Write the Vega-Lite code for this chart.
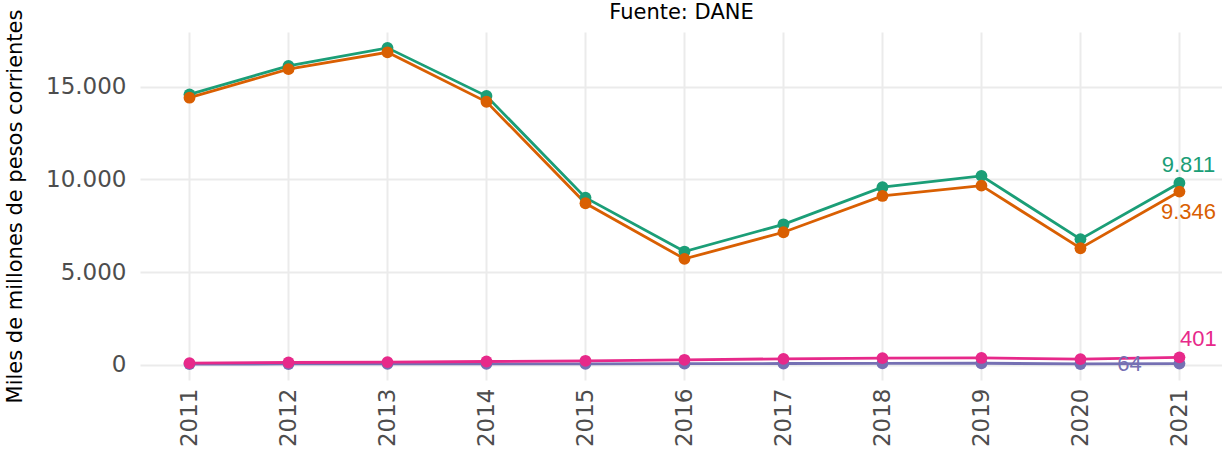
{
  "$schema": "https://vega.github.io/schema/vega-lite/v6.json",
  "autosize": {"type": "none"},
  "padding": {"left": 140, "top": 32, "right": 0, "bottom": 70},
  "width": 1082,
  "height": 348,
  "data": {"values": [
    {"anio": 2011, "serie": "Total", "valor": 14590},
    {"anio": 2012, "serie": "Total", "valor": 16130},
    {"anio": 2013, "serie": "Total", "valor": 17100},
    {"anio": 2014, "serie": "Total", "valor": 14500},
    {"anio": 2015, "serie": "Total", "valor": 9020},
    {"anio": 2016, "serie": "Total", "valor": 6110},
    {"anio": 2017, "serie": "Total", "valor": 7580},
    {"anio": 2018, "serie": "Total", "valor": 9580},
    {"anio": 2019, "serie": "Total", "valor": 10190},
    {"anio": 2020, "serie": "Total", "valor": 6780},
    {"anio": 2021, "serie": "Total", "valor": 9811},
    {"anio": 2011, "serie": "Serie A", "valor": 14410},
    {"anio": 2012, "serie": "Serie A", "valor": 15950},
    {"anio": 2013, "serie": "Serie A", "valor": 16860},
    {"anio": 2014, "serie": "Serie A", "valor": 14190},
    {"anio": 2015, "serie": "Serie A", "valor": 8715},
    {"anio": 2016, "serie": "Serie A", "valor": 5715},
    {"anio": 2017, "serie": "Serie A", "valor": 7150},
    {"anio": 2018, "serie": "Serie A", "valor": 9110},
    {"anio": 2019, "serie": "Serie A", "valor": 9665},
    {"anio": 2020, "serie": "Serie A", "valor": 6290},
    {"anio": 2021, "serie": "Serie A", "valor": 9346},
    {"anio": 2011, "serie": "Serie B", "valor": 40},
    {"anio": 2012, "serie": "Serie B", "valor": 45},
    {"anio": 2013, "serie": "Serie B", "valor": 50},
    {"anio": 2014, "serie": "Serie B", "valor": 55},
    {"anio": 2015, "serie": "Serie B", "valor": 55},
    {"anio": 2016, "serie": "Serie B", "valor": 60},
    {"anio": 2017, "serie": "Serie B", "valor": 70},
    {"anio": 2018, "serie": "Serie B", "valor": 80},
    {"anio": 2019, "serie": "Serie B", "valor": 85},
    {"anio": 2020, "serie": "Serie B", "valor": 45},
    {"anio": 2021, "serie": "Serie B", "valor": 64},
    {"anio": 2011, "serie": "Serie C", "valor": 92},
    {"anio": 2012, "serie": "Serie C", "valor": 124},
    {"anio": 2013, "serie": "Serie C", "valor": 145},
    {"anio": 2014, "serie": "Serie C", "valor": 178},
    {"anio": 2015, "serie": "Serie C", "valor": 216},
    {"anio": 2016, "serie": "Serie C", "valor": 270},
    {"anio": 2017, "serie": "Serie C", "valor": 323},
    {"anio": 2018, "serie": "Serie C", "valor": 361},
    {"anio": 2019, "serie": "Serie C", "valor": 370},
    {"anio": 2020, "serie": "Serie C", "valor": 307},
    {"anio": 2021, "serie": "Serie C", "valor": 401}
  ]},
  "resolve": {"axis": {"x": "independent", "y": "independent"}},
  "layer": [
    {"mark": {"type": "line", "strokeWidth": 2.8},
     "encoding": {
       "x": {"field": "anio", "type": "quantitative",
         "scale": {"domain": [2010.5, 2021.43], "nice": false, "zero": false},
         "axis": {"title": null, "values": [2011, 2012, 2013, 2014, 2015, 2016, 2017, 2018, 2019, 2020, 2021],
           "format": "d", "labelAngle": -90, "labelPadding": 8, "labelOverlap": false, "labelFlush": false, "gridWidth": 2}},
       "y": {"field": "valor", "type": "quantitative",
         "scale": {"domain": [-820, 17955], "nice": false, "zero": false},
         "axis": {"title": "Miles de millones de pesos corrientes", "values": [0, 5000, 10000, 15000],
           "format": ",.0f", "labelPadding": 14, "labelOverlap": false, "titlePadding": 20, "gridWidth": 2}},
       "color": {"field": "serie", "type": "nominal", "legend": null,
         "scale": {"domain": ["Total", "Serie A", "Serie B", "Serie C"], "range": ["#1b9e77", "#d95f02", "#7570b3", "#e7298a"]}}
     }},
    {"mark": {"type": "point", "filled": true, "size": 140, "opacity": 1},
     "encoding": {
       "x": {"field": "anio", "type": "quantitative",
         "scale": {"domain": [2010.5, 2021.43], "nice": false, "zero": false},
         "axis": {"orient": "top", "title": "Fuente: DANE", "titleAnchor": "middle", "titleBaseline": "alphabetic", "titlePadding": 14, "titleFontSize": 21,
           "values": [2010.5, 2011.5, 2012.5, 2013.5, 2014.5, 2015.5, 2016.5, 2017.5, 2018.5, 2019.5, 2020.5],
           "labels": false, "gridWidth": 1.2}},
       "y": {"field": "valor", "type": "quantitative",
         "scale": {"domain": [-820, 17955], "nice": false, "zero": false},
         "axis": {"title": null, "values": [2500, 7500, 12500, 17500], "labels": false, "gridWidth": 1.2}},
       "color": {"field": "serie", "type": "nominal", "legend": null}
     }},
    {"transform": [{"filter": "datum.anio == 2021 && datum.serie == 'Total'"}],
     "mark": {"type": "text", "font": "Liberation Sans", "fontSize": 22, "dx": 9, "dy": -18, "align": "center", "baseline": "middle"},
     "encoding": {
       "x": {"field": "anio", "type": "quantitative", "axis": null},
       "y": {"field": "valor", "type": "quantitative", "axis": null},
       "color": {"field": "serie", "type": "nominal", "legend": null},
       "text": {"field": "valor", "type": "quantitative", "format": ",.0f"}}},
    {"transform": [{"filter": "datum.anio == 2021 && datum.serie == 'Serie A'"}],
     "mark": {"type": "text", "font": "Liberation Sans", "fontSize": 22, "dx": 9, "dy": 20, "align": "center", "baseline": "middle"},
     "encoding": {
       "x": {"field": "anio", "type": "quantitative", "axis": null},
       "y": {"field": "valor", "type": "quantitative", "axis": null},
       "color": {"field": "serie", "type": "nominal", "legend": null},
       "text": {"field": "valor", "type": "quantitative", "format": ",.0f"}}},
    {"transform": [{"filter": "datum.anio == 2021 && datum.serie == 'Serie B'"}],
     "mark": {"type": "text", "font": "Liberation Sans", "fontSize": 22, "dx": -50, "dy": 0, "align": "center", "baseline": "middle"},
     "encoding": {
       "x": {"field": "anio", "type": "quantitative", "axis": null},
       "y": {"field": "valor", "type": "quantitative", "axis": null},
       "color": {"field": "serie", "type": "nominal", "legend": null},
       "text": {"field": "valor", "type": "quantitative", "format": ",.0f"}}},
    {"transform": [{"filter": "datum.anio == 2021 && datum.serie == 'Serie C'"}],
     "mark": {"type": "text", "font": "Liberation Sans", "fontSize": 22, "dx": 19, "dy": -18, "align": "center", "baseline": "middle"},
     "encoding": {
       "x": {"field": "anio", "type": "quantitative", "axis": null},
       "y": {"field": "valor", "type": "quantitative", "axis": null},
       "color": {"field": "serie", "type": "nominal", "legend": null},
       "text": {"field": "valor", "type": "quantitative", "format": ",.0f"}}}
  ],
  "config": {
    "locale": {"number": {"decimal": ",", "thousands": ".", "grouping": [3], "currency": ["$", ""]}},
    "view": {"stroke": null},
    "axis": {"domain": false, "ticks": false, "gridColor": "#ebebeb", "labelFont": "DejaVu Sans", "labelFontSize": 23, "labelColor": "#4d4d4d", "titleFont": "DejaVu Sans", "titleFontSize": 21, "titleFontWeight": "normal", "titleColor": "black"}
  }
}
